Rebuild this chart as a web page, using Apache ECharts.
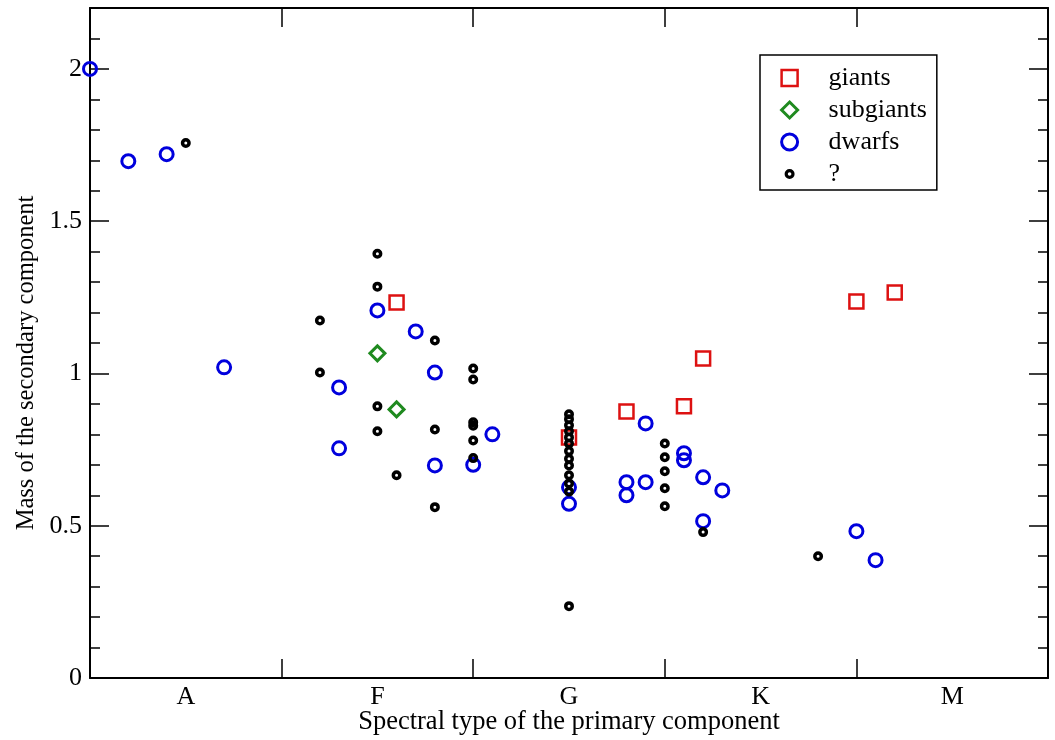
<!DOCTYPE html>
<html>
<head>
<meta charset="utf-8">
<script src="https://cdn.jsdelivr.net/npm/echarts@6/dist/echarts.min.js"></script>
<style>
html,body{margin:0;padding:0;background:#fff;}
#chart{width:1055px;height:740px;}
</style>
</head>
<body>
<div id="chart"></div>
<script>
// ---- data ----
var categories = ['A', 'F', 'G', 'K', 'M'];
var seriesNames = ['giants', 'subgiants', 'dwarfs', '?'];
var giants = [[1.6,1.233],[2.5,0.79],[2.8,0.875],[3.1,0.892],[3.2,1.049],[4.0,1.236],[4.2,1.266]];
var subgiants = [[1.5,1.066],[1.6,0.882]];
var dwarfs = [[0.0,2.0],[0.2,1.697],[0.4,1.72],[0.7,1.02],[1.3,0.954],[1.3,0.754],[1.5,1.207],
  [1.7,1.138],[1.8,1.003],[1.8,0.698],[2.0,0.700],[2.1,0.80],[2.5,0.626],[2.5,0.572],
  [2.8,0.643],[2.8,0.600],[2.9,0.643],[2.9,0.836],[3.1,0.738],[3.1,0.715],[3.2,0.659],
  [3.2,0.515],[3.3,0.616],[4.0,0.482],[4.1,0.387]];
var unknown = [[0.5,1.757],[1.2,1.174],[1.2,1.003],[1.5,1.393],[1.5,1.285],[1.5,0.892],[1.5,0.810],
  [1.6,0.666],[1.8,1.108],[1.8,0.816],[1.8,0.561],[2.0,1.016],[2.0,0.980],[2.0,0.840],[2.0,0.828],
  [2.0,0.780],[2.0,0.722],
  [2.5,0.866],[2.5,0.850],[2.5,0.830],[2.5,0.810],[2.5,0.790],[2.5,0.770],[2.5,0.745],[2.5,0.720],
  [2.5,0.698],[2.5,0.666],[2.5,0.639],[2.5,0.612],[2.5,0.236],
  [3.0,0.770],[3.0,0.725],[3.0,0.679],[3.0,0.623],[3.0,0.564],[3.2,0.479],[3.8,0.400]];
var xTitle = 'Spectral type of the primary component';
var yTitle = 'Mass of the secondary component';

// ---- styles ----
var FONT = 'Liberation Serif';
var RED = '#dd1111', GREEN = '#1f8a1f', BLUE = '#0000dd', BLACK = '#000000';
var lineStyle = {color: '#000', width: 2};

var chart = echarts.init(document.getElementById('chart'), null, {renderer: 'canvas'});
var option = {
  backgroundColor: '#fff',
  animation: false,
  grid: {left: 90, right: 7, top: 8, bottom: 62, containLabel: false, outerBoundsMode: 'none'},
  legend: {
    orient: 'vertical', left: 760, top: 55,
    padding: [10, 10, 3, 20],
    itemGap: 6, itemWidth: 16, itemHeight: 16,
    borderColor: '#000', borderWidth: 1.5, backgroundColor: '#fff',
    textStyle: {fontFamily: FONT, fontSize: 26, color: '#000', padding: [0, 0, 0, 26]},
    data: [
      {name: 'giants', icon: 'rect', itemStyle: {color: 'rgba(0,0,0,0)', borderColor: RED, borderWidth: 2.5}},
      {name: 'subgiants', icon: 'diamond', itemStyle: {color: 'rgba(0,0,0,0)', borderColor: GREEN, borderWidth: 3}},
      {name: 'dwarfs', icon: 'circle', itemStyle: {color: 'rgba(0,0,0,0)', borderColor: BLUE, borderWidth: 3}},
      {name: '?', icon: 'path://M0,0M16,16M8,4.6A3.4,3.4,0,1,1,7.99,4.6Z', itemStyle: {color: 'rgba(0,0,0,0)', borderColor: BLACK, borderWidth: 3.2}}
    ]
  },
  xAxis: [
    {type: 'value', min: 0, max: 5, position: 'bottom',
     axisLine: {show: true, onZero: false, lineStyle: lineStyle},
     axisTick: {show: false}, axisLabel: {show: false}, splitLine: {show: false},
     name: xTitle, nameLocation: 'middle', nameGap: 31,
     nameTextStyle: {fontFamily: FONT, fontSize: 26.5, color: '#000'}},
    {type: 'category', data: categories, position: 'bottom', boundaryGap: true,
     axisLine: {show: false, onZero: false},
     axisTick: {show: true, inside: true, length: 19, lineStyle: {color: '#000', width: 1.5}},
     axisLabel: {show: true, margin: 6, fontFamily: FONT, fontSize: 26, color: '#000'},
     splitLine: {show: false}},
    {type: 'category', data: categories, position: 'top', boundaryGap: true,
     axisLine: {show: true, onZero: false, lineStyle: lineStyle},
     axisTick: {show: true, inside: true, length: 19, lineStyle: {color: '#000', width: 1.5}},
     axisLabel: {show: false}, splitLine: {show: false}}
  ],
  yAxis: [
    {type: 'value', min: 0, max: 2.2, interval: 0.5, position: 'left',
     axisLine: {show: true, onZero: false, lineStyle: lineStyle},
     axisTick: {show: true, inside: true, length: 19, lineStyle: {color: '#000', width: 1.5}},
     axisLabel: {show: true, margin: 8, showMaxLabel: false, fontFamily: FONT, fontSize: 26, color: '#000'},
     splitLine: {show: false},
     name: yTitle, nameLocation: 'middle', nameGap: 50,
     nameTextStyle: {fontFamily: FONT, fontSize: 24.5, color: '#000', padding: [0, 40, 0, 0]}},
    {type: 'value', min: 0, max: 2.2, interval: 0.1, position: 'left',
     axisLine: {show: false, onZero: false},
     axisTick: {show: true, inside: true, length: 10, lineStyle: {color: '#000', width: 1.5}},
     axisLabel: {show: false}, splitLine: {show: false}},
    {type: 'value', min: 0, max: 2.2, interval: 0.5, position: 'right',
     axisLine: {show: true, onZero: false, lineStyle: lineStyle},
     axisTick: {show: true, inside: true, length: 19, lineStyle: {color: '#000', width: 1.5}},
     axisLabel: {show: false}, splitLine: {show: false}},
    {type: 'value', min: 0, max: 2.2, interval: 0.1, position: 'right',
     axisLine: {show: false, onZero: false},
     axisTick: {show: true, inside: true, length: 10, lineStyle: {color: '#000', width: 1.5}},
     axisLabel: {show: false}, splitLine: {show: false}}
  ],
  series: [
    {name: 'giants', type: 'scatter', xAxisIndex: 0, yAxisIndex: 0, data: giants,
     symbol: 'rect', symbolSize: 14,
     itemStyle: {color: 'rgba(0,0,0,0)', borderColor: RED, borderWidth: 2.5, opacity: 1}},
    {name: 'subgiants', type: 'scatter', xAxisIndex: 0, yAxisIndex: 0, data: subgiants,
     symbol: 'diamond', symbolSize: 15,
     itemStyle: {color: 'rgba(0,0,0,0)', borderColor: GREEN, borderWidth: 3, opacity: 1}},
    {name: 'dwarfs', type: 'scatter', xAxisIndex: 0, yAxisIndex: 0, data: dwarfs,
     symbol: 'circle', symbolSize: 13,
     itemStyle: {color: 'rgba(0,0,0,0)', borderColor: BLUE, borderWidth: 3, opacity: 1}},
    {name: '?', type: 'scatter', xAxisIndex: 0, yAxisIndex: 0, data: unknown,
     symbol: 'circle', symbolSize: 6.5,
     itemStyle: {color: 'rgba(0,0,0,0)', borderColor: BLACK, borderWidth: 3.5, opacity: 1}}
  ]
};
chart.setOption(option);
</script>
</body>
</html>
